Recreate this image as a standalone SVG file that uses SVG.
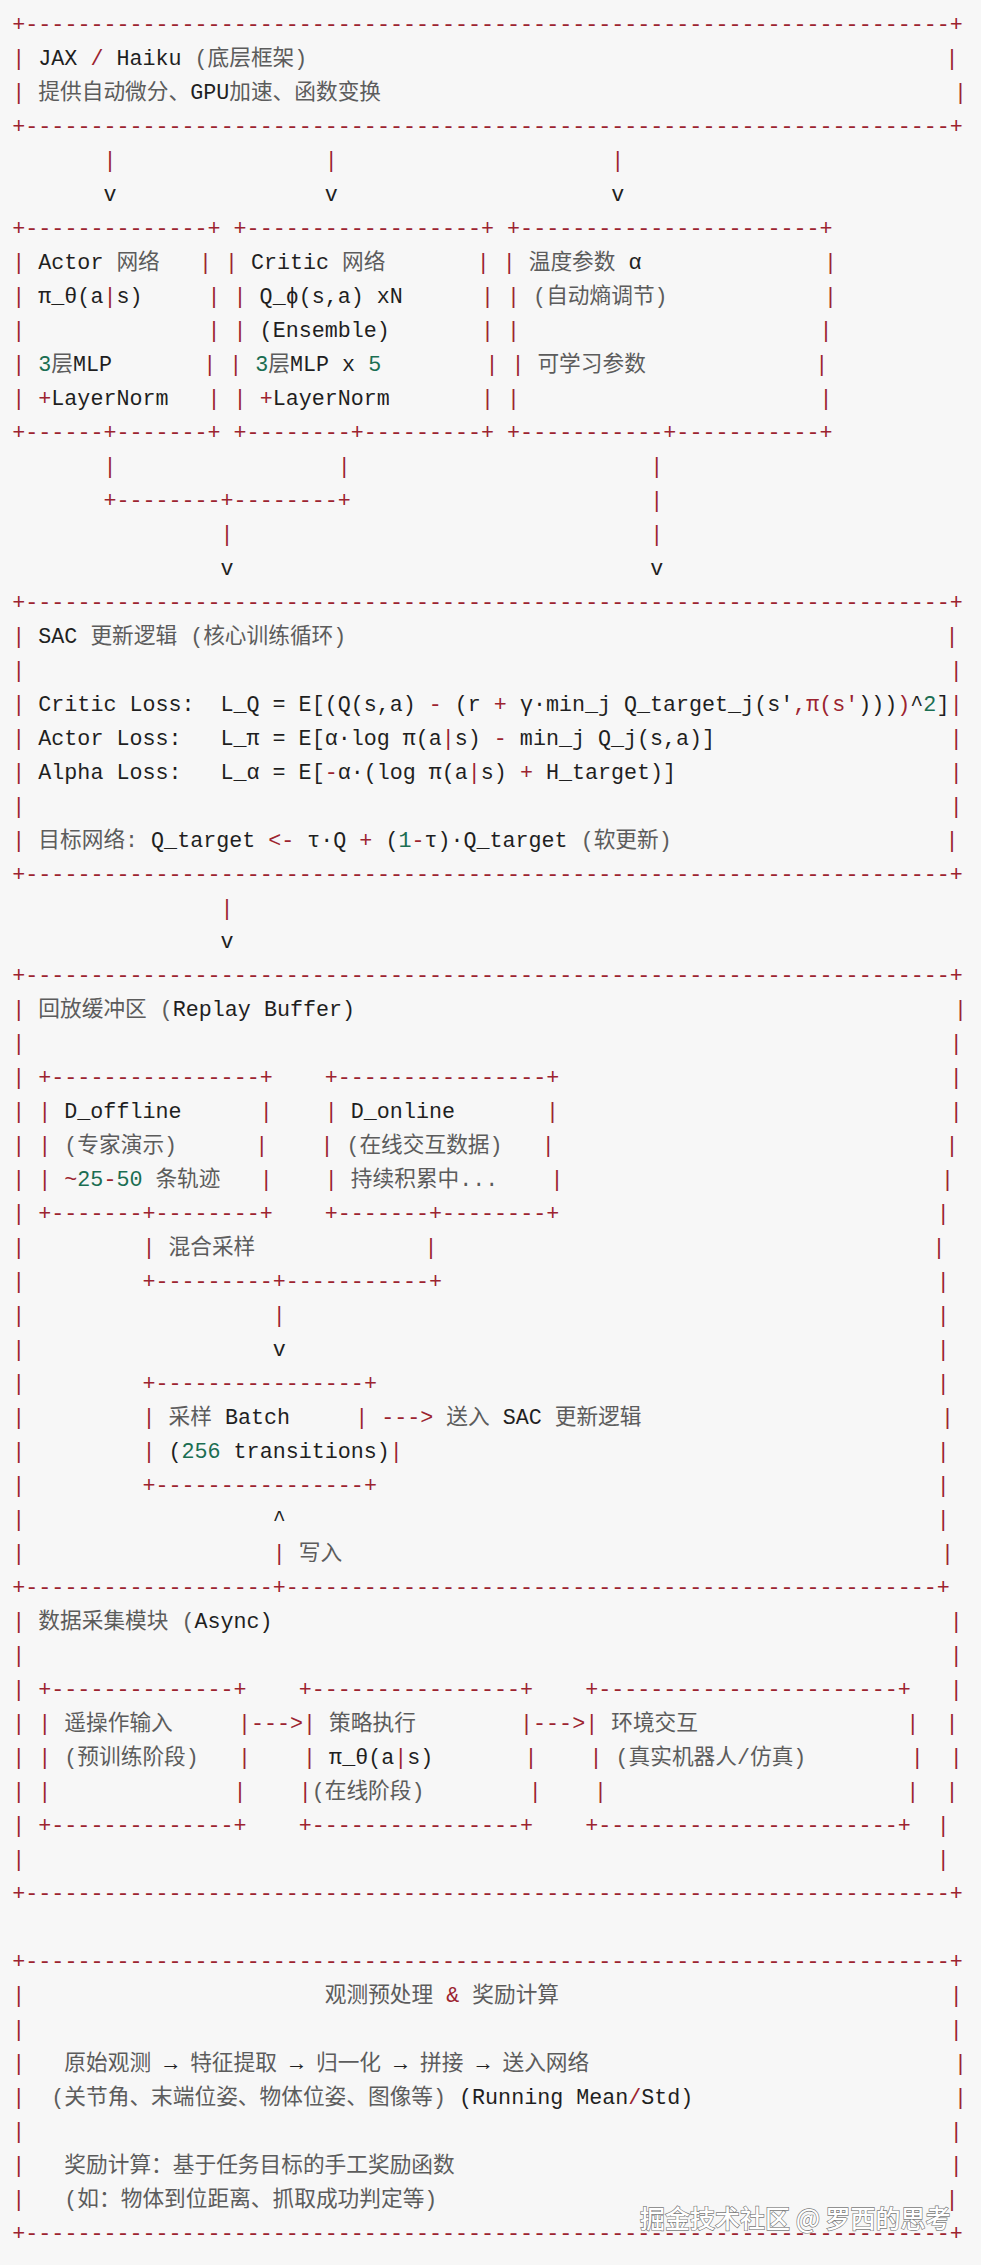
<svg xmlns="http://www.w3.org/2000/svg" width="981" height="2265" viewBox="0 0 981 2265" xml:space="preserve">
<style>
text{font-family:'Liberation Mono','DejaVu Sans Mono','Noto Sans CJK SC',monospace;font-size:21.7px;fill:#1f1f1f;white-space:pre}
.r{fill:#9c2430}
.n{fill:#1b6e52}
.c{fill:#5c5c5c}
.wm{font-family:'Noto Sans CJK SC','Noto Sans',sans-serif;font-size:25px;fill:#ffffff;stroke:#7a7a7a;stroke-width:1.3px;paint-order:stroke;font-weight:500}
</style>
<rect width="981" height="2265" fill="#f7f7f7"/>

<g id="jax-haiku">
<text class="r" x="12.3" y="31" textLength="950.5">+-----------------------------------------------------------------------+</text>
<text x="12.3" y="65"><tspan class="r">|</tspan> JAX <tspan class="r">/</tspan> Haiku <tspan class="c">(底层框架)</tspan></text>
<text class="r" x="945.4" y="65">|</text>
<text x="12.3" y="99"><tspan class="r">|</tspan><tspan class="c"> 提供自动微分、</tspan>GPU<tspan class="c">加速、函数变换</tspan></text>
<text class="r" x="954.1" y="99">|</text>
<text class="r" x="12.3" y="132.9" textLength="950.5">+-----------------------------------------------------------------------+</text>
</g>

<g id="connectors">
<text class="r" x="103.4" y="166.9">|</text><text class="r" x="324.8" y="166.9">|</text><text class="r" x="611.2" y="166.9">|</text>
<text x="103.4" y="200.9">v</text><text x="324.8" y="200.9">v</text><text x="611.2" y="200.9">v</text>
<text class="r" x="103.4" y="472.7">|</text><text class="r" x="337.8" y="472.7">|</text><text class="r" x="650.3" y="472.7">|</text>
<text class="r" x="103.4" y="506.7" textLength="247.4">+--------+--------+</text><text class="r" x="650.3" y="506.7">|</text>
<text class="r" x="220.6" y="540.7">|</text><text class="r" x="650.3" y="540.7">|</text>
<text x="220.6" y="574.7">v</text><text x="650.3" y="574.7">v</text>
<text class="r" x="220.6" y="914.5">|</text>
<text x="220.6" y="948.4">v</text>
</g>

<g id="actor">
<text class="r" x="12.3" y="234.9" textLength="208.3">+--------------+</text>
<text x="12.3" y="268.9"><tspan class="r">|</tspan> Actor <tspan class="c">网络</tspan></text>
<text class="r" x="198.9" y="268.9">|</text>
<text x="12.3" y="302.8"><tspan class="r">|</tspan> π_θ(a<tspan class="r">|</tspan>s)</text>
<text class="r" x="207.6" y="302.8">|</text>
<text class="r" x="12.3" y="336.8">|</text>
<text class="r" x="207.6" y="336.8">|</text>
<text x="12.3" y="370.8"><tspan class="r">|</tspan> <tspan class="n">3</tspan><tspan class="c">层</tspan>MLP</text>
<text class="r" x="203.3" y="370.8">|</text>
<text x="12.3" y="404.8"><tspan class="r">|</tspan> <tspan class="r">+</tspan>LayerNorm</text>
<text class="r" x="207.6" y="404.8">|</text>
<text class="r" x="12.3" y="438.8" textLength="208.3">+------+-------+</text>
</g>

<g id="critic">
<text class="r" x="233.6" y="234.9" textLength="260.4">+------------------+</text>
<text x="224.9" y="268.9"><tspan class="r">|</tspan> Critic <tspan class="c">网络</tspan></text>
<text class="r" x="476.7" y="268.9">|</text>
<text x="233.6" y="302.8"><tspan class="r">|</tspan> Q_ϕ(s,a) xN</text>
<text class="r" x="481.0" y="302.8">|</text>
<text x="233.6" y="336.8"><tspan class="r">|</tspan> (Ensemble)</text>
<text class="r" x="481.0" y="336.8">|</text>
<text x="229.3" y="370.8"><tspan class="r">|</tspan> <tspan class="n">3</tspan><tspan class="c">层</tspan>MLP x <tspan class="n">5</tspan></text>
<text class="r" x="485.4" y="370.8">|</text>
<text x="233.6" y="404.8"><tspan class="r">|</tspan> <tspan class="r">+</tspan>LayerNorm</text>
<text class="r" x="481.0" y="404.8">|</text>
<text class="r" x="233.6" y="438.8" textLength="260.4">+--------+---------+</text>
</g>

<g id="alpha">
<text class="r" x="507.1" y="234.9" textLength="325.5">+-----------------------+</text>
<text x="502.7" y="268.9"><tspan class="r">|</tspan> <tspan class="c">温度参数</tspan> α</text>
<text class="r" x="823.9" y="268.9">|</text>
<text x="507.1" y="302.8"><tspan class="r">|</tspan><tspan class="c"> (自动熵调节)</tspan></text>
<text class="r" x="823.9" y="302.8">|</text>
<text class="r" x="507.1" y="336.8">|</text>
<text class="r" x="819.5" y="336.8">|</text>
<text x="511.4" y="370.8"><tspan class="r">|</tspan> <tspan class="c">可学习参数</tspan></text>
<text class="r" x="815.2" y="370.8">|</text>
<text class="r" x="507.1" y="404.8">|</text>
<text class="r" x="819.5" y="404.8">|</text>
<text class="r" x="507.1" y="438.8" textLength="325.5">+-----------+-----------+</text>
</g>

<g id="sac-update">
<text class="r" x="12.3" y="608.7" textLength="950.5">+-----------------------------------------------------------------------+</text>
<text x="12.3" y="642.6"><tspan class="r">|</tspan> SAC <tspan class="c">更新逻辑 (核心训练循环)</tspan></text>
<text class="r" x="945.4" y="642.6">|</text>
<text class="r" x="12.3" y="676.6">|</text>
<text class="r" x="949.7" y="676.6">|</text>
<text x="12.3" y="710.6"><tspan class="r">|</tspan> Critic Loss:  L_Q = E[(Q(s,a) <tspan class="r">-</tspan> (r <tspan class="r">+</tspan> γ·min_j Q_target_j(s'<tspan class="r">,π(s'</tspan>)))<tspan class="r">)</tspan>^<tspan class="n">2</tspan>]</text>
<text class="r" x="949.7" y="710.6">|</text>
<text x="12.3" y="744.6"><tspan class="r">|</tspan> Actor Loss:   L_π = E[α·log π(a<tspan class="r">|</tspan>s) <tspan class="r">-</tspan> min_j Q_j(s,a)]</text>
<text class="r" x="949.7" y="744.6">|</text>
<text x="12.3" y="778.5"><tspan class="r">|</tspan> Alpha Loss:   L_α = E[<tspan class="r">-</tspan>α·(log π(a<tspan class="r">|</tspan>s) <tspan class="r">+</tspan> H_target)]</text>
<text class="r" x="949.7" y="778.5">|</text>
<text class="r" x="12.3" y="812.5">|</text>
<text class="r" x="949.7" y="812.5">|</text>
<text x="12.3" y="846.5"><tspan class="r">|</tspan><tspan class="c"> 目标网络: </tspan>Q_target <tspan class="r">&lt;-</tspan> τ·Q <tspan class="r">+</tspan> (<tspan class="n">1</tspan><tspan class="r">-</tspan>τ)·Q_target <tspan class="c">(软更新)</tspan></text>
<text class="r" x="945.4" y="846.5">|</text>
<text class="r" x="12.3" y="880.5" textLength="950.5">+-----------------------------------------------------------------------+</text>
</g>

<g id="replay-buffer">
<text class="r" x="12.3" y="982.4" textLength="950.5">+-----------------------------------------------------------------------+</text>
<text x="12.3" y="1016.4"><tspan class="r">|</tspan> <tspan class="c">回放缓冲区 (</tspan>Replay Buffer)</text>
<text class="r" x="954.1" y="1016.4">|</text>
<text class="r" x="12.3" y="1050.4">|</text><text class="r" x="949.7" y="1050.4">|</text>
<text class="r" x="12.3" y="1084.4">|</text><text class="r" x="949.7" y="1084.4">|</text>
<text class="r" x="12.3" y="1118.3">|</text><text class="r" x="949.7" y="1118.3">|</text>
<text class="r" x="12.3" y="1152.3">|</text><text class="r" x="945.4" y="1152.3">|</text>
<text class="r" x="12.3" y="1186.3">|</text><text class="r" x="941.1" y="1186.3">|</text>
<text class="r" x="12.3" y="1220.3">|</text><text class="r" x="936.7" y="1220.3">|</text>
<text class="r" x="12.3" y="1254.3">|</text><text class="r" x="932.4" y="1254.3">|</text>
<text class="r" x="12.3" y="1288.2">|</text><text class="r" x="936.7" y="1288.2">|</text>
<text class="r" x="12.3" y="1322.2">|</text><text class="r" x="936.7" y="1322.2">|</text>
<text class="r" x="12.3" y="1356.2">|</text><text class="r" x="936.7" y="1356.2">|</text>
<text class="r" x="12.3" y="1390.2">|</text><text class="r" x="936.7" y="1390.2">|</text>
<text class="r" x="12.3" y="1424.1">|</text><text class="r" x="941.1" y="1424.1">|</text>
<text class="r" x="12.3" y="1458.1">|</text><text class="r" x="936.7" y="1458.1">|</text>
<text class="r" x="12.3" y="1492.1">|</text><text class="r" x="936.7" y="1492.1">|</text>
<text class="r" x="12.3" y="1526.1">|</text><text class="r" x="936.7" y="1526.1">|</text>
<text class="r" x="12.3" y="1560.1">|</text><text class="r" x="941.1" y="1560.1">|</text>
<text class="r" x="12.3" y="1594" textLength="937.4">+-------------------+--------------------------------------------------+</text>

<g id="d-offline">
<text class="r" x="38.3" y="1084.4" textLength="234.4">+----------------+</text>
<text x="38.3" y="1118.3"><tspan class="r">|</tspan> D_offline</text>
<text class="r" x="259.7" y="1118.3">|</text>
<text x="38.3" y="1152.3"><tspan class="r">|</tspan><tspan class="c"> (专家演示)</tspan></text>
<text class="r" x="255.3" y="1152.3">|</text>
<text x="38.3" y="1186.3"><tspan class="r">|</tspan> <tspan class="r">~</tspan><tspan class="n">25</tspan><tspan class="r">-</tspan><tspan class="n">50</tspan><tspan class="c"> 条轨迹</tspan></text>
<text class="r" x="259.7" y="1186.3">|</text>
<text class="r" x="38.3" y="1220.3" textLength="234.4">+-------+--------+</text>
</g>

<g id="d-online">
<text class="r" x="324.8" y="1084.4" textLength="234.4">+----------------+</text>
<text x="324.8" y="1118.3"><tspan class="r">|</tspan> D_online</text>
<text class="r" x="546.1" y="1118.3">|</text>
<text x="320.4" y="1152.3"><tspan class="r">|</tspan><tspan class="c"> (在线交互数据)</tspan></text>
<text class="r" x="541.8" y="1152.3">|</text>
<text x="324.8" y="1186.3"><tspan class="r">|</tspan><tspan class="c"> 持续积累中...</tspan></text>
<text class="r" x="550.5" y="1186.3">|</text>
<text class="r" x="324.8" y="1220.3" textLength="234.4">+-------+--------+</text>
</g>

<g id="mixed-sampling">
<text x="142.5" y="1254.3"><tspan class="r">|</tspan><tspan class="c"> 混合采样</tspan></text>
<text class="r" x="424.6" y="1254.3">|</text>
<text class="r" x="142.5" y="1288.2" textLength="299.5">+---------+-----------+</text>
</g>

<g id="sample-batch">
<text class="r" x="142.5" y="1390.2" textLength="234.4">+----------------+</text>
<text x="142.5" y="1424.1"><tspan class="r">|</tspan> <tspan class="c">采样</tspan> Batch</text>
<text class="r" x="355.2" y="1424.1">|</text>
<text x="142.5" y="1458.1"><tspan class="r">|</tspan> (<tspan class="n">256</tspan> transitions)<tspan class="r">|</tspan></text>
<text class="r" x="142.5" y="1492.1" textLength="234.4">+----------------+</text>
</g>

<g id="buffer-connectors">
<text class="r" x="272.7" y="1322.2">|</text>
<text x="272.7" y="1356.2">v</text>
<text x="381.2" y="1424.1"><tspan class="r">---&gt;</tspan><tspan class="c"> 送入 </tspan>SAC <tspan class="c">更新逻辑</tspan></text>
<text x="272.7" y="1526.1">^</text>
<text x="272.7" y="1560.1"><tspan class="r">|</tspan><tspan class="c"> 写入</tspan></text>
</g>
</g>

<g id="data-collection">
<text x="12.3" y="1628"><tspan class="r">|</tspan> <tspan class="c">数据采集模块 (</tspan>Async)</text>
<text class="r" x="949.7" y="1628">|</text>
<text class="r" x="12.3" y="1662">|</text><text class="r" x="949.7" y="1662">|</text>
<text class="r" x="12.3" y="1696">|</text><text class="r" x="949.7" y="1696">|</text>
<text class="r" x="12.3" y="1730">|</text><text class="r" x="945.4" y="1730">|</text>
<text class="r" x="12.3" y="1763.9">|</text><text class="r" x="949.7" y="1763.9">|</text>
<text class="r" x="12.3" y="1797.9">|</text><text class="r" x="945.4" y="1797.9">|</text>
<text class="r" x="12.3" y="1831.9">|</text><text class="r" x="936.7" y="1831.9">|</text>
<text class="r" x="12.3" y="1865.9">|</text><text class="r" x="936.7" y="1865.9">|</text>
<text class="r" x="12.3" y="1899.9" textLength="950.5">+-----------------------------------------------------------------------+</text>

<g id="teleop-input">
<text class="r" x="38.3" y="1696" textLength="208.3">+--------------+</text>
<text x="38.3" y="1730"><tspan class="r">|</tspan><tspan class="c"> 遥操作输入</tspan></text>
<text class="r" x="238.0" y="1730">|</text>
<text x="38.3" y="1763.9"><tspan class="r">|</tspan><tspan class="c"> (预训练阶段)</tspan></text>
<text class="r" x="238.0" y="1763.9">|</text>
<text class="r" x="38.3" y="1797.9">|</text>
<text class="r" x="233.6" y="1797.9">|</text>
<text class="r" x="38.3" y="1831.9" textLength="208.3">+--------------+</text>
</g>

<g id="policy-exec">
<text class="r" x="298.7" y="1696" textLength="234.4">+----------------+</text>
<text x="303.1" y="1730"><tspan class="r">|</tspan><tspan class="c"> 策略执行</tspan></text>
<text class="r" x="520.1" y="1730">|</text>
<text x="303.1" y="1763.9"><tspan class="r">|</tspan> π_θ(a<tspan class="r">|</tspan>s)</text>
<text class="r" x="524.4" y="1763.9">|</text>
<text x="298.7" y="1797.9"><tspan class="r">|</tspan><tspan class="c">(在线阶段)</tspan></text>
<text class="r" x="528.8" y="1797.9">|</text>
<text class="r" x="298.7" y="1831.9" textLength="234.4">+----------------+</text>
</g>

<g id="env-interaction">
<text class="r" x="585.2" y="1696" textLength="325.5">+-----------------------+</text>
<text x="585.2" y="1730"><tspan class="r">|</tspan><tspan class="c"> 环境交互</tspan></text>
<text class="r" x="906.3" y="1730">|</text>
<text x="589.5" y="1763.9"><tspan class="r">|</tspan><tspan class="c"> (真实机器人/仿真)</tspan></text>
<text class="r" x="910.7" y="1763.9">|</text>
<text class="r" x="593.9" y="1797.9">|</text>
<text class="r" x="906.3" y="1797.9">|</text>
<text class="r" x="585.2" y="1831.9" textLength="325.5">+-----------------------+</text>
</g>

<g id="collection-connectors">
<text class="r" x="251.0" y="1730">---&gt;</text>
<text class="r" x="533.1" y="1730">---&gt;</text>
</g>
</g>

<g id="obs-preprocess">
<text class="r" x="12.3" y="1967.8" textLength="950.5">+-----------------------------------------------------------------------+</text>
<text class="r" x="12.3" y="2001.8">|</text>
<text x="324.8" y="2001.8"><tspan class="c">观测预处理 </tspan><tspan class="r">&amp;</tspan><tspan class="c"> 奖励计算</tspan></text>
<text class="r" x="949.7" y="2001.8">|</text>
<text class="r" x="12.3" y="2035.8">|</text><text class="r" x="949.7" y="2035.8">|</text>
<text x="12.3" y="2069.8"><tspan class="r">|</tspan><tspan class="c">   原始观测 </tspan>→<tspan class="c"> 特征提取 </tspan>→<tspan class="c"> 归一化 </tspan>→<tspan class="c"> 拼接 </tspan>→<tspan class="c"> 送入网络</tspan></text>
<text class="r" x="954.1" y="2069.8">|</text>
<text x="12.3" y="2103.7"><tspan class="r">|</tspan><tspan class="c">  (关节角、末端位姿、物体位姿、图像等) </tspan>(Running Mean<tspan class="r">/</tspan>Std)</text>
<text class="r" x="954.1" y="2103.7">|</text>
<text class="r" x="12.3" y="2137.7">|</text><text class="r" x="949.7" y="2137.7">|</text>
<text x="12.3" y="2171.7"><tspan class="r">|</tspan><tspan class="c">   奖励计算：基于任务目标的手工奖励函数</tspan></text>
<text class="r" x="949.7" y="2171.7">|</text>
<text x="12.3" y="2205.7"><tspan class="r">|</tspan><tspan class="c">   (如：物体到位距离、抓取成功判定等)</tspan></text>
<text class="r" x="945.4" y="2205.7">|</text>
<text class="r" x="12.3" y="2239.7" textLength="950.5">+-----------------------------------------------------------------------+</text>
</g>

<g id="watermark">
<text class="wm" x="640" y="2228">掘金技术社区 @ 罗西的思考</text>
</g>
</svg>
